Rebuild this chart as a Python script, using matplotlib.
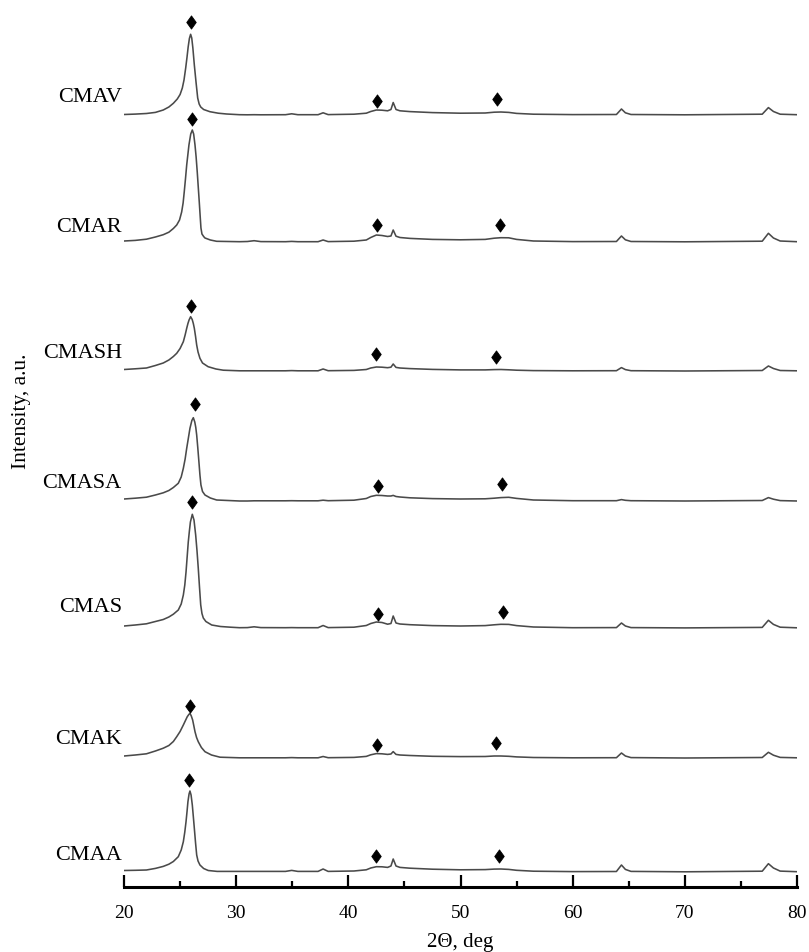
"""
XRD patterns of the CMA series, stacked
"""
import matplotlib
matplotlib.use("Agg")
import matplotlib.pyplot as plt
from matplotlib.path import Path
from matplotlib.ticker import MultipleLocator

plt.rcParams['font.family'] = ['Liberation Serif', 'DejaVu Serif']

# sample names, top to bottom, and the vertical offset of each pattern (a.u.)
names = ['CMAV', 'CMAR', 'CMASH', 'CMASA', 'CMAS', 'CMAK', 'CMAA']
offsets = [772, 645, 516, 386, 259, 129, 15]

# 2-theta grid shared by the high-angle part of every pattern
tail_x = [30.3, 31.0, 31.6, 32.2, 34.4, 34.95, 35.5, 37.3, 37.75, 38.2,
          40.5, 41.6, 42.0, 42.5, 43.0, 43.5, 43.8, 44.0, 44.25, 44.6,
          45.5, 47.5, 50.0, 52.2, 53.0, 53.6, 54.3, 55.0, 56.5, 60.0,
          63.9, 64.35, 64.7, 65.2, 70.0, 76.9, 77.45, 77.9, 78.5, 80.0]

# CMAV
cmav_peak_x = [20.0, 21.0, 22.0, 22.8, 23.5, 24.0, 24.4, 24.75, 25.0, 25.2,
               25.35, 25.5, 25.62, 25.72, 25.83, 25.94, 26.04, 26.14, 26.27,
               26.42, 26.57, 26.7, 26.84, 27.1, 27.66, 28.4, 29.15]
cmav_peak_y = [0.5, 0.9, 1.5, 2.6, 5.0, 8.0, 11.7, 16.0, 20.5, 27.0,
               35.0, 47.0, 58.0, 68.0, 76.5, 80.7, 77.0, 67.0, 50.0,
               33.0, 17.0, 11.0, 8.0, 5.5, 3.3, 1.8, 1.0]
cmav_tail_y = [0.3, 0.2, 0.3, 0.2, 0.3, 1.2, 0.3, 0.3, 2.2, 0.4,
               0.8, 1.8, 3.5, 5.0, 4.8, 4.2, 5.5, 12.5, 5.5, 4.2,
               3.4, 2.4, 1.8, 2.0, 2.8, 3.0, 2.6, 1.6, 0.8, 0.4,
               0.5, 6.0, 2.2, 0.5, 0.2, 0.8, 7.4, 3.5, 0.8, 0.3]
cmav_marks_x = [25.97, 42.58, 53.22]
cmav_marks_y = [92.7, 14.3, 16.0]

# CMAR
cmar_peak_x = [20.0, 21.0, 22.0, 22.8, 23.5, 24.0, 24.4, 24.7, 24.95, 25.14,
               25.27, 25.37, 25.48, 25.59, 25.7, 25.79, 25.95, 26.09, 26.21,
               26.33, 26.43, 26.53, 26.62, 26.71, 26.79, 26.86, 26.95, 27.1,
               27.22, 27.7, 28.26]
cmar_peak_y = [1.0, 1.6, 2.8, 5.0, 7.3, 9.8, 13.5, 17.0, 22.0, 30.0,
               39.0, 50.0, 63.0, 77.0, 88.0, 97.0, 108.0, 112.0, 108.0,
               97.0, 85.0, 70.0, 55.0, 40.0, 26.0, 14.0, 8.0, 5.5,
               4.0, 2.0, 0.7]
cmar_tail_y = [0.3, 0.5, 1.3, 0.4, 0.3, 0.6, 0.3, 0.3, 2.0, 0.4,
               0.8, 2.0, 4.5, 7.0, 6.5, 5.5, 6.0, 12.0, 5.8, 4.5,
               3.6, 2.6, 2.2, 2.6, 3.8, 4.3, 4.2, 2.6, 1.0, 0.4,
               0.5, 6.0, 2.2, 0.5, 0.2, 0.8, 8.7, 4.0, 1.0, 0.3]
cmar_marks_x = [26.03, 42.58, 53.54]
cmar_marks_y = [122.7, 17.0, 17.0]

# CMASH
cmash_peak_x = [20.0, 21.0, 22.0, 22.8, 23.5, 24.0, 24.4, 24.7, 25.0, 25.29,
                25.45, 25.59, 25.7, 25.8, 25.94, 26.08, 26.18, 26.27, 26.38,
                26.48, 26.6, 26.77, 27.0, 27.5, 28.2, 28.85]
cmash_peak_y = [1.5, 2.2, 3.0, 5.5, 8.0, 11.0, 14.5, 17.7, 22.5, 29.3,
                36.0, 42.7, 47.5, 51.0, 54.3, 51.5, 47.5, 42.7, 34.5,
                26.0, 19.0, 12.7, 8.0, 4.3, 2.0, 0.8]
cmash_tail_y = [0.2, 0.2, 0.2, 0.2, 0.2, 0.4, 0.2, 0.2, 2.0, 0.3,
                0.6, 1.5, 3.0, 4.0, 3.8, 3.3, 3.8, 7.0, 3.6, 3.0,
                2.4, 1.6, 1.1, 1.1, 1.4, 1.5, 1.2, 0.8, 0.4, 0.2,
                0.3, 3.4, 1.4, 0.3, 0.0, 0.5, 5.0, 2.5, 0.5, 0.2]
cmash_marks_x = [25.94, 42.46, 53.13]
cmash_marks_y = [65.3, 16.7, 14.4]

# CMASA
cmasa_peak_x = [20.0, 21.0, 22.0, 22.8, 23.5, 24.0, 24.4, 24.84, 25.1, 25.29,
                25.45, 25.59, 25.74, 25.88, 26.05, 26.18, 26.31, 26.4, 26.48,
                26.58, 26.68, 26.77, 26.86, 27.0, 27.22, 27.7, 28.26]
cmasa_peak_y = [2.0, 2.8, 3.8, 6.0, 8.2, 10.5, 13.5, 17.7, 24.0, 32.7,
                42.0, 52.7, 63.0, 72.7, 80.5, 83.3, 79.0, 73.5, 66.0,
                53.0, 39.0, 26.0, 16.0, 9.5, 6.0, 3.0, 1.0]
cmasa_tail_y = [0.0, 0.0, 0.2, 0.2, 0.2, 0.3, 0.2, 0.2, 0.8, 0.3,
                0.8, 2.5, 4.5, 5.7, 5.5, 5.0, 5.0, 5.6, 4.5, 4.0,
                3.2, 2.4, 2.0, 2.2, 2.8, 3.4, 3.7, 2.6, 1.0, 0.3,
                0.3, 1.4, 0.7, 0.3, 0.0, 0.5, 3.4, 1.8, 0.4, 0.0]
cmasa_marks_x = [26.33, 42.67, 53.66]
cmasa_marks_y = [97.0, 14.7, 17.4]

# CMAS
cmas_peak_x = [20.0, 21.0, 22.0, 22.8, 23.5, 24.0, 24.4, 24.84, 25.1, 25.29,
               25.42, 25.53, 25.63, 25.73, 25.83, 25.92, 26.09, 26.24, 26.39,
               26.51, 26.62, 26.73, 26.84, 26.95, 27.07, 27.3, 27.82, 28.6,
               29.5]
cmas_peak_y = [2.0, 3.0, 4.2, 6.5, 8.5, 11.0, 13.8, 18.0, 24.0, 33.0,
               43.0, 56.0, 71.0, 86.0, 97.0, 106.0, 113.7, 108.0, 93.0,
               77.0, 60.0, 41.0, 23.0, 14.5, 10.0, 6.5, 3.0, 1.5,
               0.8]
cmas_tail_y = [0.3, 0.4, 1.2, 0.4, 0.3, 0.4, 0.3, 0.3, 2.5, 0.4,
               0.8, 2.5, 4.5, 6.0, 5.5, 3.8, 4.5, 12.0, 5.0, 4.0,
               3.3, 2.4, 2.0, 2.4, 3.2, 3.7, 3.6, 2.4, 1.0, 0.3,
               0.4, 5.0, 2.0, 0.4, 0.1, 0.6, 7.7, 3.6, 0.8, 0.2]
cmas_marks_x = [26.06, 42.67, 53.75]
cmas_marks_y = [126.3, 13.7, 16.0]

# CMAK
cmak_peak_x = [20.0, 21.0, 22.0, 22.8, 23.5, 24.0, 24.4, 24.7, 25.0, 25.29,
               25.5, 25.64, 25.78, 25.88, 26.0, 26.12, 26.22, 26.33, 26.47,
               26.62, 26.9, 27.22, 27.8, 28.56]
cmak_peak_y = [2.0, 3.0, 4.2, 7.0, 9.8, 12.5, 16.5, 21.3, 26.5, 33.0,
               38.0, 41.3, 43.5, 44.7, 42.0, 38.0, 32.5, 26.3, 20.5,
               16.3, 10.5, 6.3, 3.0, 0.8]
cmak_tail_y = [0.2, 0.2, 0.2, 0.2, 0.2, 0.4, 0.2, 0.2, 1.5, 0.3,
               0.6, 1.6, 3.2, 4.4, 4.2, 3.6, 4.0, 6.4, 3.6, 3.0,
               2.5, 1.7, 1.4, 1.5, 2.0, 2.0, 1.7, 1.1, 0.5, 0.2,
               0.3, 5.0, 2.0, 0.4, 0.0, 0.5, 5.7, 2.8, 0.6, 0.2]
cmak_marks_x = [25.88, 42.58, 53.20]
cmak_marks_y = [52.0, 12.7, 15.0]

# CMAA
cmaa_peak_x = [20.0, 21.0, 22.0, 22.8, 23.5, 24.0, 24.4, 24.84, 25.1, 25.29,
               25.42, 25.53, 25.62, 25.70, 25.80, 25.88, 25.98, 26.09, 26.18,
               26.27, 26.38, 26.48, 26.6, 26.77, 27.1, 27.51, 28.3]
cmaa_peak_y = [1.5, 1.7, 2.0, 3.6, 5.6, 7.8, 10.5, 15.3, 22.0, 30.3,
               40.0, 50.3, 60.5, 70.3, 78.0, 81.0, 77.0, 67.0, 55.5,
               43.7, 29.0, 17.0, 11.0, 7.0, 3.5, 1.5, 0.6]
cmaa_tail_y = [0.6, 0.6, 0.6, 0.6, 0.6, 1.6, 0.6, 0.6, 3.0, 0.6,
               1.0, 2.2, 4.0, 5.3, 5.2, 4.6, 6.0, 13.0, 6.0, 4.6,
               3.8, 2.8, 2.2, 2.4, 2.9, 3.0, 2.6, 1.7, 0.8, 0.4,
               0.5, 7.0, 2.6, 0.6, 0.2, 0.8, 8.3, 4.0, 0.9, 0.3]
cmaa_marks_x = [25.82, 42.46, 53.42]
cmaa_marks_y = [92.0, 16.3, 16.3]

samples = [
    (cmav_peak_x, cmav_peak_y, cmav_tail_y, cmav_marks_x, cmav_marks_y),
    (cmar_peak_x, cmar_peak_y, cmar_tail_y, cmar_marks_x, cmar_marks_y),
    (cmash_peak_x, cmash_peak_y, cmash_tail_y, cmash_marks_x, cmash_marks_y),
    (cmasa_peak_x, cmasa_peak_y, cmasa_tail_y, cmasa_marks_x, cmasa_marks_y),
    (cmas_peak_x, cmas_peak_y, cmas_tail_y, cmas_marks_x, cmas_marks_y),
    (cmak_peak_x, cmak_peak_y, cmak_tail_y, cmak_marks_x, cmak_marks_y),
    (cmaa_peak_x, cmaa_peak_y, cmaa_tail_y, cmaa_marks_x, cmaa_marks_y),
]

# how far above its baseline each sample name sits
label_lift = [18, 14, 17, 17, 21, 19, 17]

# narrow diamond used to flag the reflections
diamond = Path([(0, 1), (0.72, 0), (0, -1), (-0.72, 0), (0, 1)],
               [Path.MOVETO, Path.LINETO, Path.LINETO, Path.LINETO, Path.CLOSEPOLY])

W, H = 809, 952
fig = plt.figure(figsize=(W / 100, H / 100), dpi=100)
ax = fig.add_axes([124 / W, (H - 887) / H, 673 / W, 887 / H])

for name, off, lift, (px, py, ty, mx, my) in zip(names, offsets, label_lift, samples):
    xs = px + tail_x
    ys = [v + off for v in py + ty]
    ax.plot(xs, ys, color='#4a4a4a', lw=1.15, solid_joinstyle='round')
    ax.plot(mx, [v + off for v in my], linestyle='none', marker=diamond,
            markersize=9.5, color='black', markeredgewidth=0.6)
    ax.text(19.8, off + lift, name, ha='right', va='center',
            fontsize=16, clip_on=False)

ax.set_xlim(20, 80)
ax.set_ylim(0, 887)
ax.xaxis.set_major_locator(MultipleLocator(10))
ax.xaxis.set_minor_locator(MultipleLocator(5))
ax.set_yticks([])
for side in ['top', 'right', 'left']:
    ax.spines[side].set_visible(False)
ax.spines['bottom'].set_linewidth(2.2)
ax.tick_params(axis='x', which='major', direction='in', length=9, width=1.6,
               labelsize=14, pad=13)
ax.tick_params(axis='x', which='minor', direction='in', length=4.5, width=1.6)
ax.set_xlabel('2Θ, deg', fontsize=15, labelpad=8)
fig.text(21.7 / W, 1 - 411.7 / H, 'Intensity, a.u.', rotation=90,
         ha='center', va='center', fontsize=15.5)

fig.savefig('out.png', dpi=100)
